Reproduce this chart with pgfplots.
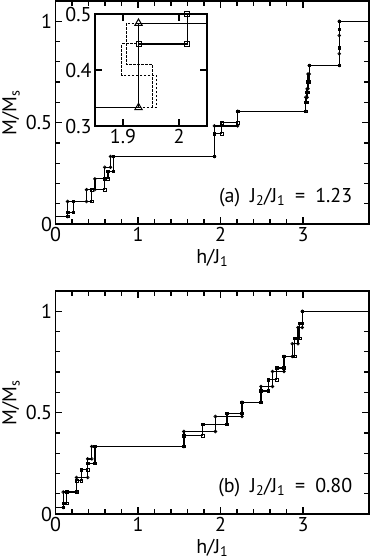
\documentclass[border=0pt]{standalone}
\usepackage{fontspec}
\setmainfont{PT Sans}
\usepackage{pgfplots}
\pgfplotsset{compat=1.18}
\newcommand{\fs}{\fontsize{20}{23}\selectfont}

\pgfplotsset{
  frame/.style={
    scale only axis,
    tick align=inside,
    major tick length=7pt,
    minor tick length=5pt,
    tick style={line width=1.2pt, black},
    axis line style={line width=1.4pt},
    tick label style={font=\fs},
    label style={font=\fs},
    /pgf/number format/assume math mode=true,
  },
  panel/.style={
    frame,
    width=313.5pt, height=223pt,
    xmin=0, xmax=3.8, ymin=0, ymax=1.1,
    xtick={0,1,2,3}, minor x tick num=4,
    ytick={0,0.5,1},
    minor ytick={0.1,0.2,0.3,0.4,0.6,0.7,0.8,0.9},
    xlabel={h/J\textsubscript{1}},
    ylabel={M/M\textsubscript{s}},
    xlabel style={at={(axis description cs:0.5,-0.15)}, anchor=center},
    ylabel style={at={(axis description cs:-0.142,0.5)}, anchor=center},
  },
  stepA/.style={black, line width=1.3pt, mark=o, mark size=1.4pt,
    mark options={solid, fill=white, line width=0.7pt}},
  stepB/.style={black, line width=1.3pt, mark=square, mark size=1.3pt,
    mark options={solid, fill=white, line width=0.7pt}},
}

\begin{document}
\begin{tikzpicture}
\useasboundingbox (0,0) rectangle (381pt,-560pt);

% (a) J2/J1 = 1.23
\begin{axis}[panel, at={(55.5pt,-224pt)}, anchor=south west]
\addplot[stepB, mark indices={2,...,31}] coordinates {
  (0,0.037) (0.147,0.037) (0.147,0.058) (0.215,0.058) (0.215,0.111)
  (0.437,0.111) (0.437,0.169) (0.598,0.169) (0.598,0.223) (0.638,0.223)
  (0.638,0.259) (0.699,0.259) (0.699,0.333) (1.927,0.333) (1.927,0.446)
  (2.015,0.446) (2.015,0.5) (2.208,0.5) (2.208,0.556) (3.034,0.556)
  (3.034,0.6) (3.045,0.6) (3.045,0.65) (3.058,0.65) (3.058,0.7)
  (3.075,0.7) (3.075,0.782) (3.44,0.782) (3.44,0.87) (3.44,0.96)
  (3.44,1) (3.8,1)
};
\addplot[stepA, mark indices={2,...,27}] coordinates {
  (0,0.037) (0.147,0.037) (0.147,0.111) (0.377,0.111) (0.377,0.169)
  (0.477,0.169) (0.477,0.223) (0.598,0.223) (0.598,0.28) (0.666,0.28)
  (0.666,0.333) (1.927,0.333) (1.927,0.484) (2.208,0.484) (2.208,0.556)
  (3.034,0.556) (3.034,0.625) (3.05,0.625) (3.05,0.667) (3.06,0.667)
  (3.06,0.74) (3.075,0.74) (3.075,0.782) (3.44,0.782) (3.44,0.84)
  (3.44,0.93) (3.44,1) (3.8,1)
};
\node[anchor=east, inner sep=0pt, font=\fs] at (axis cs:3.6,0.13)
  {(a)\enspace J\textsubscript{2}/J\textsubscript{1}\enspace=\enspace1.23};
\end{axis}

% inset
\begin{axis}[frame, at={(95pt,-126pt)}, anchor=south west,
  width=112pt, height=112pt,
  xmin=1.85, xmax=2.05, ymin=0.3, ymax=0.5,
  xtick={1.9,2}, ytick={0.3,0.4,0.5},
  axis background/.style={fill=white}]
\addplot[black, line width=1pt, dash pattern=on 2.5pt off 1.5pt] coordinates {
  (1.9527,0.333) (1.9527,0.41) (1.9057,0.41) (1.9057,0.4836) (1.9277,0.4836)
};
\addplot[black, line width=1pt, dash pattern=on 2.5pt off 1.5pt] coordinates {
  (1.9277,0.333) (1.9593,0.333) (1.9593,0.3907) (1.898,0.3907) (1.898,0.4466)
  (1.9277,0.4466)
};
\addplot[black, line width=1.2pt, mark=square, mark size=2.5pt,
  mark options={solid, fill=white, line width=1pt}, mark indices={2,3,4}] coordinates {
  (1.9277,0.333) (1.9277,0.4466) (2.015,0.4466) (2.015,0.5)
};
\addplot[black, line width=1.2pt, mark=triangle, mark size=4.2pt,
  mark options={solid, fill=white, line width=1pt}, mark indices={2,3}] coordinates {
  (1.85,0.333) (1.9277,0.333) (1.9277,0.4836) (2.05,0.4836)
};
\end{axis}

% (b) J2/J1 = 0.80
\begin{axis}[panel, at={(55.5pt,-514pt)}, anchor=south west]
\addplot[stepB, mark indices={2,...,35}] coordinates {
  (0,0.032) (0.094,0.032) (0.094,0.053) (0.135,0.053) (0.135,0.108)
  (0.256,0.108) (0.256,0.164) (0.311,0.164) (0.311,0.218) (0.39,0.218)
  (0.39,0.25) (0.477,0.25) (0.477,0.333) (1.556,0.333) (1.556,0.386)
  (1.785,0.386) (1.785,0.443) (2.08,0.443) (2.08,0.497) (2.26,0.497)
  (2.26,0.551) (2.49,0.551) (2.49,0.607) (2.58,0.607) (2.58,0.662)
  (2.68,0.662) (2.68,0.72) (2.77,0.72) (2.77,0.777) (2.9,0.777)
  (2.9,0.866) (2.96,0.866) (2.96,0.94) (2.99,0.94) (2.99,1) (3.8,1)
};
\addplot[stepA, mark indices={2,...,27}] coordinates {
  (0,0.032) (0.094,0.032) (0.094,0.108) (0.256,0.108) (0.256,0.18)
  (0.39,0.18) (0.39,0.272) (0.44,0.272) (0.44,0.333) (1.556,0.333)
  (1.556,0.407) (1.938,0.407) (1.938,0.481) (2.26,0.481) (2.26,0.551)
  (2.49,0.551) (2.49,0.629) (2.63,0.629) (2.63,0.703) (2.77,0.703)
  (2.77,0.777) (2.87,0.777) (2.87,0.84) (2.94,0.84) (2.94,0.92)
  (2.99,0.92) (2.99,1) (3.8,1)
};
\node[anchor=east, inner sep=0pt, font=\fs] at (axis cs:3.6,0.13)
  {(b)\enspace J\textsubscript{2}/J\textsubscript{1}\enspace=\enspace0.80};
\end{axis}
\end{tikzpicture}
\end{document}
